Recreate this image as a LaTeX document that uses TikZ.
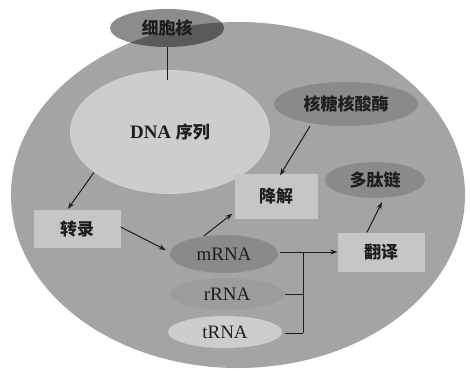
\documentclass[tikz,border=0pt]{standalone}
\usepackage{fontspec}
\setmainfont{Liberation Serif}
\newfontfamily\cjk{Noto Sans CJK SC}
\usetikzlibrary{shapes.geometric,arrows.meta,calc}
\definecolor{cellgray}{HTML}{A4A4A4}
\definecolor{lightgray}{HTML}{CDCDCD}
\definecolor{boxgray}{HTML}{C6C6C6}
\definecolor{darkgray}{HTML}{8A8A8A}
\definecolor{midgray}{HTML}{9C9C9C}
\definecolor{ink}{HTML}{1E1E1E}
\tikzset{
  oval/.style={ellipse, draw=none, inner sep=0pt, text=ink},
  boxnode/.style={rectangle, draw=none, fill=boxgray, inner sep=0pt, text=ink},
  zh/.style={font=\cjk\bfseries\fontsize{17}{17}\selectfont},
  en/.style={font=\fontsize{19}{19}\selectfont},
  conn/.style={draw=ink, line width=1pt},
  arr/.style={conn, -{Stealth[length=7pt,width=5pt]}}
}
\begin{document}
\begin{tikzpicture}[x=1pt,y=-1pt]
\useasboundingbox (0,0) rectangle (470,370);
\fill[white] (0,0) rectangle (470,370);
% cell
\node[oval, fill=cellgray, minimum width=454pt, minimum height=346pt] (cell) at (238,195) {};
% DNA region
\node[oval, fill=lightgray, minimum width=200pt, minimum height=124pt, en] (dna) at (170,132) {\textbf{DNA} {\cjk\bfseries\fontsize{17}{17}\selectfont 序列}};
% nucleus label
\node[oval, fill=black, fill opacity=0.45, text opacity=1, minimum width=114pt, minimum height=38pt, zh] (nuc) at (167,28) {细胞核};
% ribonuclease
\node[oval, fill=darkgray, minimum width=144pt, minimum height=44pt, zh] (rnase) at (346,104) {核糖核酸酶};
% degradation
\node[boxnode, minimum width=83pt, minimum height=45pt, zh] (jj) at (276,196) {降解};
% polypeptide
\node[oval, fill=darkgray, minimum width=100pt, minimum height=36pt, zh] (dtl) at (375,180) {多肽链};
% translation
\node[boxnode, minimum width=87pt, minimum height=39pt, zh] (fy) at (381,252) {翻译};
% transcription
\node[boxnode, minimum width=87pt, minimum height=38pt, zh] (zl) at (77,229) {转录};
% RNAs
\node[oval, fill=darkgray, minimum width=108pt, minimum height=38pt, en] (mrna) at (224,254) {mRNA};
\node[oval, fill=midgray, minimum width=114pt, minimum height=32pt, en] (rrna) at (227,294) {rRNA};
\node[oval, fill=lightgray, minimum width=114pt, minimum height=32pt, en] (trna) at (225,332) {tRNA};
% connectors
\coordinate (nucend) at (167,80);
\draw[conn] (nuc.south) -- (nucend);
\draw[arr] (dna.-152) -- ($(zl.north)+(-9,-1)$);
\draw[arr] ($(zl.east)+(0,-2)$) -- ($(mrna.west)+(-4,-4)$);
\draw[arr] ($(mrna.north)+(-20,1)$) -- ($(jj.south west)+(-2,-5)$);
\draw[arr] ($(rnase.south)+(-36,0)$) -- ($(jj.north)+(4,2)$);
\draw[arr] ($(fy.north)+(-14,0)$) -- ($(dtl.south)+(7,4)$);
\coordinate (br) at (303,252);
\draw[arr] ($(mrna.east)+(2,-2)$) -- (fy.west |- br);
\draw[conn] (br) -- (303,333);
\draw[conn] ($(rrna.east)+(1,0)$) -- (303,294);
\draw[conn] ($(trna.east)+(3,1)$) -- (303,333);
\end{tikzpicture}
\end{document}
